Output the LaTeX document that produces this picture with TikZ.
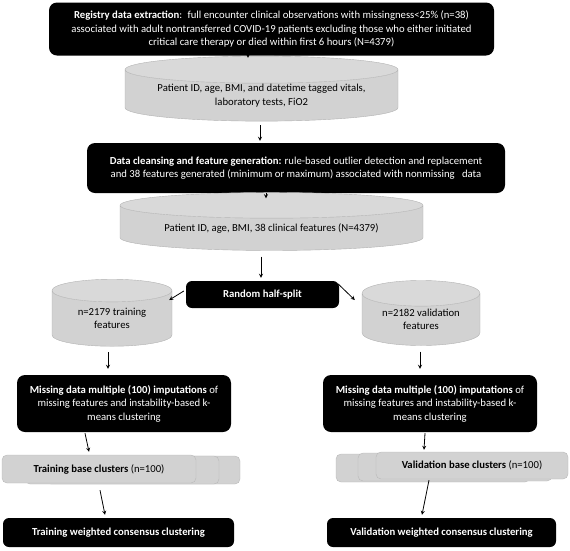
\documentclass[tikz,border=0pt]{standalone}
\usepackage{fontspec}
\setmainfont{Carlito}
\usetikzlibrary{shapes,shapes.geometric,arrows}

\tikzset{
  >=stealth,
  txt/.style={font=\fontsize{10.7}{13.5}\selectfont, align=center, inner sep=0pt},
  blackbox/.style={txt, fill=black, text=white, rounded corners=8pt},
  graycyl/.style={txt, cylinder, shape border rotate=90, draw=gray!60,
    cylinder uses custom fill, cylinder body fill=gray!35, cylinder end fill=gray!30},
  clusterbox/.style={txt, fill=gray!35, draw=gray!55, rounded corners=5pt},
  flow/.style={->, line width=0.8pt}
}

\begin{document}
\begin{tikzpicture}[x=1pt, y=-1pt]
\useasboundingbox (0,0) rectangle (570,550);
% extraction and feature steps
\node[blackbox, minimum width=445, minimum height=53] (extract) at (271.5,29) {\textbf{Registry data extraction}:\enspace full encounter clinical observations with missingness<25\% (n=38)\\ associated with adult nontransferred COVID-19 patients excluding those who either initiated\\ critical care therapy or died within first 6 hours (N=4379)};
\node[graycyl, minimum width=273, minimum height=65, aspect=0.13] (rawdata) at (261.5,95.5) {Patient ID, age, BMI, and datetime tagged vitals,\\ laboratory tests, FiO2};
\node[blackbox, minimum width=418, minimum height=50] (cleanse) at (296,168) {\textbf{Data cleansing and feature generation:} rule-based outlier detection and replacement\\ and 38 features generated (minimum or maximum) associated with nonmissing\ \ \ data};
\node[graycyl, minimum width=303, minimum height=58, aspect=0.12] (features) at (271.5,228) {Patient ID, age, BMI, 38 clinical features (N=4379)};
\node[blackbox, rounded corners=6pt, minimum width=153, minimum height=27] (split) at (262.5,294.5) {\textbf{Random half-split}};
% training side
\node[graycyl, minimum width=120, minimum height=67, aspect=0.33] (trainset) at (112,318.5) {n=2179 training\\ features};
\node[blackbox, minimum width=214, minimum height=57] (trainimp) at (124,403.5) {\textbf{Missing data multiple (100) imputations} of\\ missing features and instability-based k-\\ means clustering};
\node[clusterbox, minimum width=194, minimum height=28] (trainbase3) at (143,470) {};
\node[clusterbox, minimum width=194, minimum height=28] (trainbase2) at (122,470) {};
\node[clusterbox, minimum width=194, minimum height=28] (trainbase) at (99,469) {\textbf{Training base clusters} (n=100)};
\node[blackbox, rounded corners=6pt, minimum width=231, minimum height=29] (trainwcc) at (118.5,532.5) {\textbf{Training weighted consensus clustering}};
% validation side
\node[graycyl, minimum width=118, minimum height=65, aspect=0.33] (validset) at (421,319.5) {n=2182 validation\\ features};
\node[blackbox, minimum width=214, minimum height=57] (validimp) at (430,403.5) {\textbf{Missing data multiple (100) imputations} of\\ missing features and instability-based k-\\ means clustering};
\node[clusterbox, minimum width=194, minimum height=28] (validbase3) at (433,468) {};
\node[clusterbox, minimum width=194, minimum height=28] (validbase2) at (455,467) {};
\node[clusterbox, minimum width=192, minimum height=27] (validbase) at (472,465.5) {\textbf{Validation base clusters} (n=100)};
\node[blackbox, rounded corners=6pt, minimum width=229, minimum height=29] (validwcc) at (441.5,532.5) {\textbf{Validation weighted consensus clustering}};
% arrows
\draw[flow] ([shift={(-23.5,0)}]extract.south) -- ([shift={(-13.5,2)}]rawdata.north);
\draw[flow] ([shift={(-1.5,4)}]rawdata.south) -- ([shift={(-36,-2)}]cleanse.north);
\draw[flow] ([shift={(-30,0)}]cleanse.south) -- ([shift={(-5.5,6)}]features.north);
\draw[flow] ([shift={(-10.5,6)}]features.south) -- ([shift={(-1.5,-3)}]split.north);
\draw[flow] ([shift={(-2,-3.5)}]split.west) -- ([shift={(-3,-18.5)}]trainset.east);
\draw[flow] ([shift={(-1,-10.5)}]split.east) -- ([shift={(-7,-19.5)}]validset.west);
\draw[flow] ([shift={(-4,6)}]trainset.south) -- ([shift={(-16,-6)}]trainimp.north);
\draw[flow] ([shift={(-1,6)}]validset.south) -- ([shift={(-10,-6)}]validimp.north);
\draw[flow] ([shift={(-39,1)}]trainimp.south) -- ([shift={(-10,-3)}]trainbase.north);
\draw[flow] ([shift={(1,7)}]trainbase.south) -- ([shift={(-13.5,-3)}]trainwcc.north);
\draw[flow] ([shift={(-5,1)}]validimp.south) -- ([shift={(-48,-2)}]validbase.north);
\draw[flow] ([shift={(-43,1)}]validbase.south) -- ([shift={(-19.5,-3)}]validwcc.north);
\end{tikzpicture}
\end{document}
